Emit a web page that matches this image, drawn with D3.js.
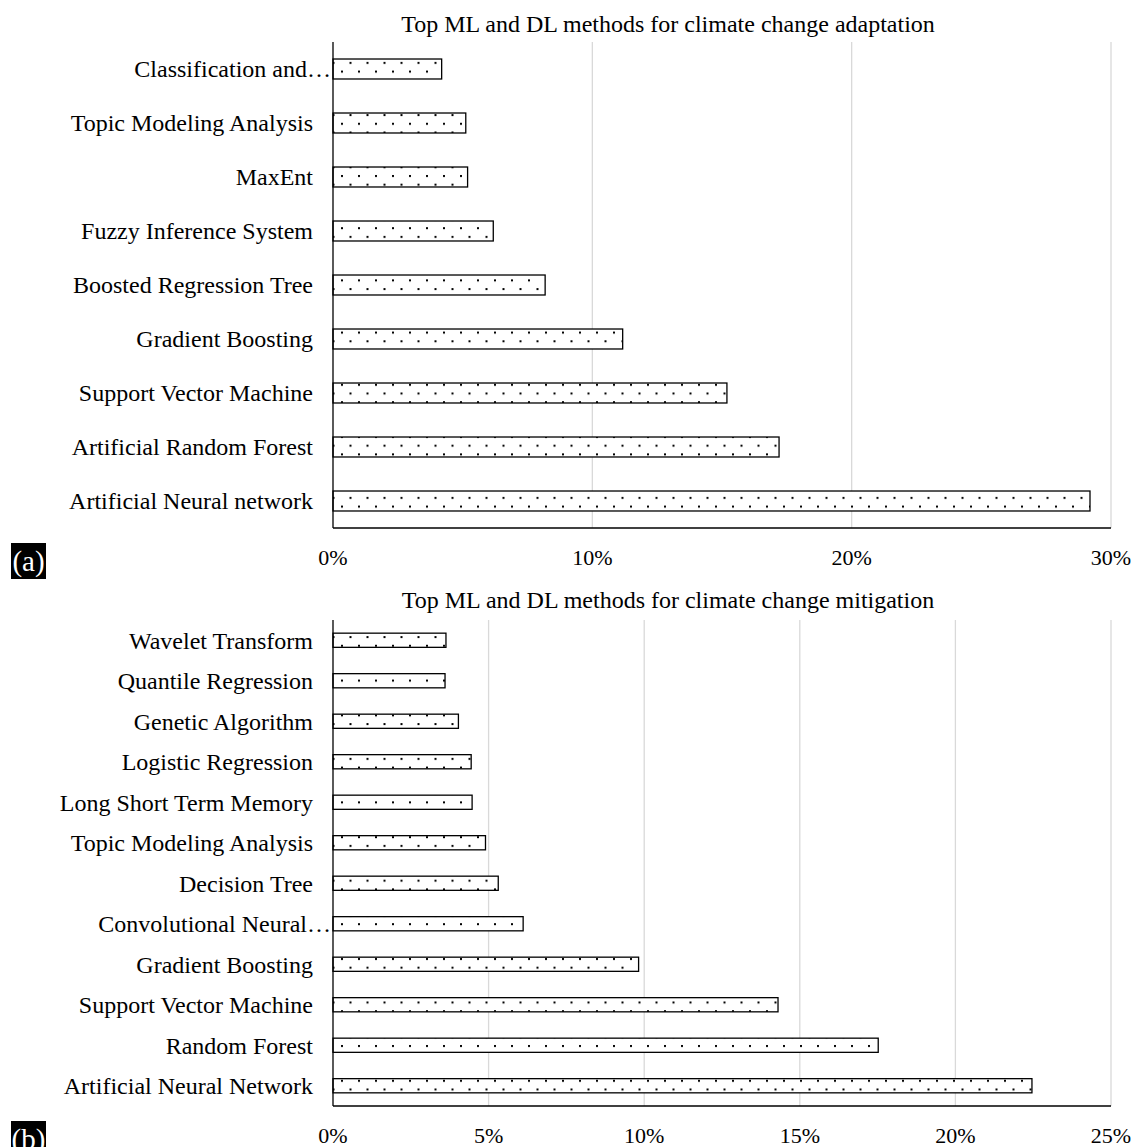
<!DOCTYPE html>
<html>
<head>
<meta charset="utf-8">
<script src="https://cdn.jsdelivr.net/npm/d3@7"></script>
<style>
  html, body { margin: 0; padding: 0; background: #fff; }
  svg { display: block; font-family: "Liberation Serif", "Times New Roman", serif; }
</style>
</head>
<body>
<svg id="chart" width="1135" height="1147"></svg>
<script>
// Panel (a): adaptation
const adaptTitle = "Top ML and DL methods for climate change adaptation";
const adaptMethods = [
  "Classification and…",
  "Topic Modeling Analysis",
  "MaxEnt",
  "Fuzzy Inference System",
  "Boosted Regression Tree",
  "Gradient Boosting",
  "Support Vector Machine",
  "Artificial Random Forest",
  "Artificial Neural network"
];
const adaptShares = [4.19, 5.12, 5.19, 6.18, 8.18, 11.17, 15.19, 17.2, 29.19];
const adaptTicks = [0, 10, 20, 30];

// Panel (b): mitigation
const mitigTitle = "Top ML and DL methods for climate change mitigation";
const mitigMethods = [
  "Wavelet Transform",
  "Quantile Regression",
  "Genetic Algorithm",
  "Logistic Regression",
  "Long Short Term Memory",
  "Topic Modeling Analysis",
  "Decision Tree",
  "Convolutional Neural…",
  "Gradient Boosting",
  "Support Vector Machine",
  "Random Forest",
  "Artificial Neural Network"
];
const mitigShares = [3.63, 3.60, 4.03, 4.44, 4.47, 4.90, 5.31, 6.11, 9.82, 14.30, 17.52, 22.46];
const mitigTicks = [0, 5, 10, 15, 20, 25];

const svg = d3.select("#chart");

// Sparse dot fill shared by all bars
const defs = svg.append("defs");
const pat = defs.append("pattern")
  .attr("id", "dots")
  .attr("patternUnits", "userSpaceOnUse")
  .attr("width", 17).attr("height", 17.4);
pat.append("rect").attr("width", 17).attr("height", 17.4).attr("fill", "#fff");
pat.append("rect").attr("x", 1).attr("y", 1).attr("width", 2).attr("height", 2).attr("fill", "#000");
pat.append("rect").attr("x", 9.5).attr("y", 9.7).attr("width", 2).attr("height", 2).attr("fill", "#000");

function panel(cfg) {
  const g = svg.append("g");
  const x = d3.scaleLinear().domain([0, cfg.max]).range([cfg.left, cfg.right]);
  const y = d3.scaleBand().domain(cfg.methods)
    .range([cfg.top, cfg.bottom])
    .paddingInner(cfg.pad).paddingOuter(cfg.pad / 2);

  // vertical gridlines
  g.append("g").selectAll("line")
    .data(cfg.ticks.filter(t => t > 0))
    .join("line")
    .attr("x1", d => x(d)).attr("x2", d => x(d))
    .attr("y1", cfg.top).attr("y2", cfg.bottom)
    .attr("stroke", "#d9d9d9").attr("stroke-width", 1.3);

  // bars
  g.append("g").selectAll("rect")
    .data(cfg.methods.map((m, i) => ({ m, v: cfg.values[i] })))
    .join("rect")
    .attr("x", x(0))
    .attr("y", d => y(d.m))
    .attr("width", d => x(d.v) - x(0))
    .attr("height", y.bandwidth())
    .attr("fill", "url(#dots)")
    .attr("stroke", "#000").attr("stroke-width", 1.3);

  // category axis line + bottom axis line
  g.append("line")
    .attr("x1", x(0)).attr("x2", x(0))
    .attr("y1", cfg.top).attr("y2", cfg.bottom)
    .attr("stroke", "#000").attr("stroke-width", 1.3);
  g.append("line")
    .attr("x1", x(0)).attr("x2", cfg.right)
    .attr("y1", cfg.bottom).attr("y2", cfg.bottom)
    .attr("stroke", "#000").attr("stroke-width", 1.3);

  // category labels
  g.append("g").selectAll("text")
    .data(cfg.methods)
    .join("text")
    .attr("x", d => d.endsWith("…") ? x(0) - 2 : x(0) - 20)
    .attr("y", d => y(d) + y.bandwidth() / 2)
    .attr("dy", "0.35em")
    .attr("text-anchor", "end")
    .attr("font-size", 24)
    .attr("fill", "#000")
    .text(d => d);

  // value axis labels
  g.append("g").selectAll("text")
    .data(cfg.ticks)
    .join("text")
    .attr("x", d => x(d))
    .attr("y", cfg.tickY)
    .attr("dy", "0.35em")
    .attr("text-anchor", "middle")
    .attr("font-size", 22)
    .attr("fill", "#000")
    .text(d => d + "%");

  // title
  g.append("text")
    .attr("x", 668).attr("y", cfg.titleY)
    .attr("dy", "0.35em")
    .attr("text-anchor", "middle")
    .attr("font-size", 24)
    .attr("fill", "#000")
    .text(cfg.title);

  // panel tag
  const tag = g.append("g");
  tag.append("rect")
    .attr("x", 11).attr("y", cfg.tagY)
    .attr("width", 35).attr("height", 36)
    .attr("fill", "#000");
  tag.append("text")
    .attr("x", 28.5).attr("y", cfg.tagY + 18)
    .attr("dy", "0.35em")
    .attr("text-anchor", "middle")
    .attr("font-size", 29)
    .attr("fill", "#fff")
    .text(cfg.tag);
}

panel({
  title: adaptTitle, methods: adaptMethods, values: adaptShares, ticks: adaptTicks,
  max: 30, left: 333, right: 1111, top: 42, bottom: 528, pad: 0.63,
  tickY: 557, titleY: 24, tag: "(a)", tagY: 543
});

panel({
  title: mitigTitle, methods: mitigMethods, values: mitigShares, ticks: mitigTicks,
  max: 25, left: 333, right: 1111, top: 620, bottom: 1106, pad: 0.65,
  tickY: 1135, titleY: 600, tag: "(b)", tagY: 1121
});
</script>
</body>
</html>
